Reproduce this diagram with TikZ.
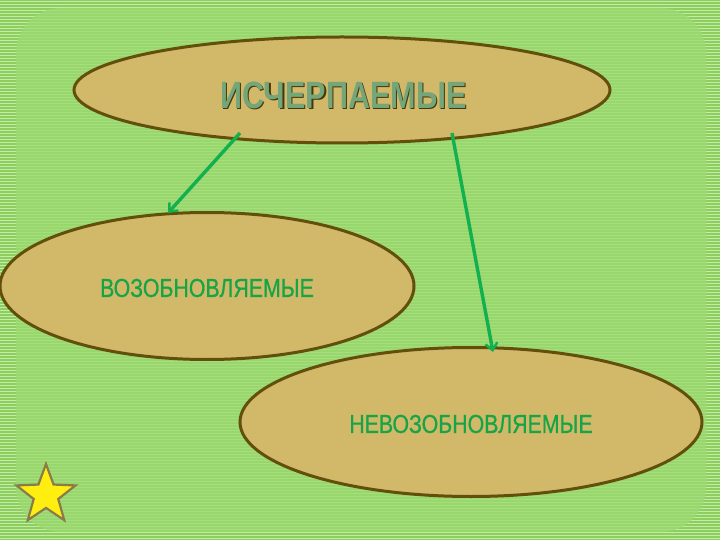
\documentclass[tikz,border=0pt]{standalone}
\usepackage{fontspec}
\setmainfont{Liberation Sans}
\usetikzlibrary{shapes.geometric,arrows.meta}
\definecolor{bggreen}{HTML}{8CCF5E}
\definecolor{stripe}{HTML}{C4EBA8}
\definecolor{innergreen}{HTML}{9DDA72}
\definecolor{tan}{HTML}{D2B869}
\definecolor{olive}{HTML}{634F0C}
\definecolor{txtgreen}{HTML}{15A546}
\definecolor{arrgreen}{HTML}{12B04E}
\definecolor{titlegreen}{HTML}{74A67A}
\definecolor{starfill}{HTML}{FFEE10}
\begin{document}
\begin{tikzpicture}[x=1pt,y=-1pt,
  oval/.style={ellipse,draw=olive,line width=3pt,fill=tan,inner sep=0pt},
  lbl/.style={font=\fontsize{26}{26}\selectfont,text=txtgreen,xscale=0.82,draw=none},
  ttl/.style={font=\bfseries\fontsize{38}{38}\selectfont,xscale=0.805},
  arr/.style={draw=arrgreen,line width=3.4pt,-{Straight Barb[length=7pt,width=12pt,line width=2.4pt]}}]
\useasboundingbox (0,0) rectangle (720,540);
% background
\fill[bggreen] (0,0) rectangle (720,540);
\foreach \y in {1,4,...,540} {\draw[stripe,line width=0.9pt] (0,\y) -- (720,\y);}
\fill[innergreen,opacity=0.75,rounded corners=45pt] (16,8) rectangle (706,532);
% ovals
\node[oval,minimum width=536pt,minimum height=106pt] (top) at (342,90) {};
\node[oval,minimum width=414pt,minimum height=147pt] (left) at (207,286) {};
\node[oval,minimum width=462pt,minimum height=149pt] (right) at (471,422) {};
% texts
\node[ttl,text=olive!70!black] (titleshadow) at (344.8,96.8) {ИСЧЕРПАЕМЫЕ};
\node[ttl,text=titlegreen] (title) at (343.5,95.5) {ИСЧЕРПАЕМЫЕ};
\node[lbl] (ltxt) at (207,288) {\addfontfeature{FakeBold=0.7}ВОЗОБНОВЛЯЕМЫЕ};
\node[lbl] (rtxt) at (471,424) {\addfontfeature{FakeBold=0.7}НЕВОЗОБНОВЛЯЕМЫЕ};
% arrows
\coordinate (a1s) at (240,133);
\coordinate (a1e) at (168,213);
\coordinate (a2s) at (452,133);
\coordinate (a2e) at (493,352);
\draw[arr] (a1s) -- (a1e);
\draw[arr] (a2s) -- (a2e);
% star
\node[star,star points=5,star point ratio=2.4,minimum size=62pt,inner sep=0pt,fill=starfill,draw=olive!75,line width=2.2pt] (star) at (46,495) {};
\end{tikzpicture}
\end{document}
